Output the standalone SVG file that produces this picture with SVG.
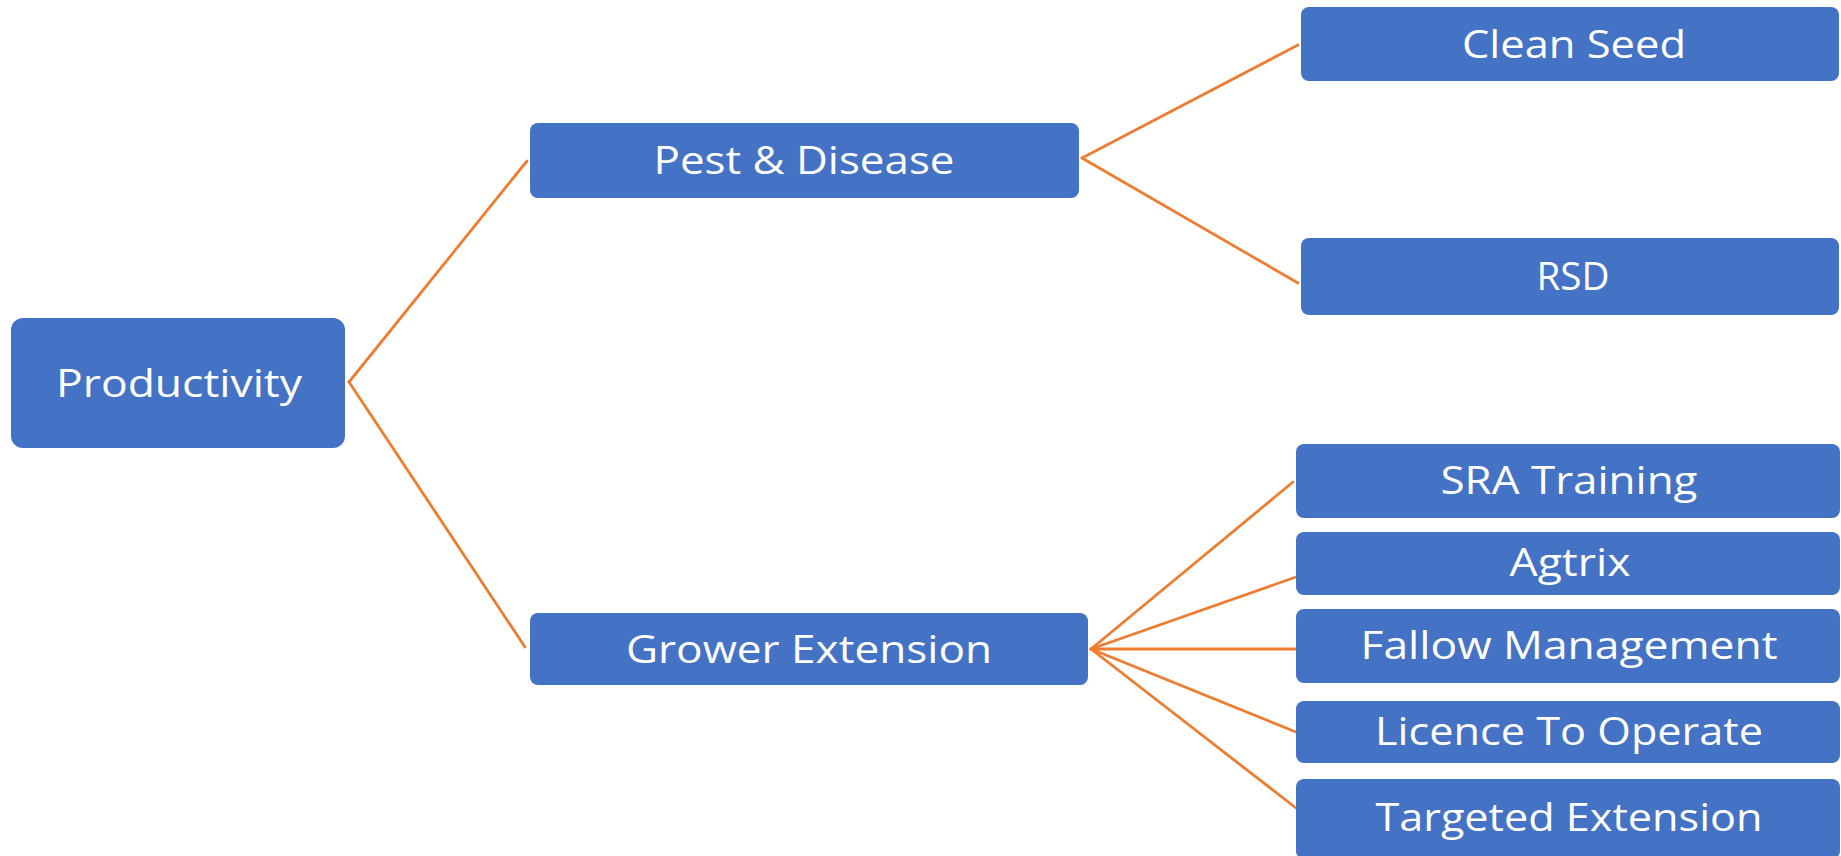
<svg xmlns="http://www.w3.org/2000/svg" width="1841" height="856" viewBox="0 0 1841 856">
<style>
.box{fill:#4472C4}
.lbl{fill:#FFFFFF;font-family:"Open Sans","Liberation Sans",sans-serif;font-size:38px;text-anchor:middle}
.con{stroke:#ED7D31;stroke-width:2.8;fill:none;stroke-linecap:round}
</style>
<rect width="1841" height="856" fill="#FFFFFF"/>
<g id="connectors">
<line class="con" x1="349" y1="382" x2="527" y2="161"/>
<line class="con" x1="349" y1="382" x2="525" y2="647"/>
<line class="con" x1="1082" y1="158" x2="1298" y2="45"/>
<line class="con" x1="1082" y1="158" x2="1298" y2="283"/>
<line class="con" x1="1091" y1="649" x2="1293" y2="482"/>
<line class="con" x1="1091" y1="649" x2="1296" y2="577"/>
<line class="con" x1="1091" y1="649" x2="1296" y2="649"/>
<line class="con" x1="1091" y1="649" x2="1296" y2="732"/>
<line class="con" x1="1091" y1="649" x2="1296" y2="808"/>
</g>
<g id="node-productivity">
<rect class="box" x="11" y="318" width="334" height="130" rx="12"/>
<text class="lbl" x="179" y="397" textLength="246" lengthAdjust="spacingAndGlyphs">Productivity</text>
</g>
<g id="node-pest-disease">
<rect class="box" x="530" y="123" width="549" height="75" rx="8"/>
<text class="lbl" x="804" y="174" textLength="301" lengthAdjust="spacingAndGlyphs">Pest &amp; Disease</text>
</g>
<g id="node-grower-extension">
<rect class="box" x="530" y="613" width="558" height="72" rx="8"/>
<text class="lbl" x="809" y="663" textLength="366" lengthAdjust="spacingAndGlyphs">Grower Extension</text>
</g>
<g id="node-clean-seed">
<rect class="box" x="1301" y="7" width="538" height="74" rx="8"/>
<text class="lbl" x="1574" y="58" textLength="224" lengthAdjust="spacingAndGlyphs">Clean Seed</text>
</g>
<g id="node-rsd">
<rect class="box" x="1301" y="238" width="538" height="77" rx="8"/>
<text class="lbl" x="1573" y="290" textLength="73" lengthAdjust="spacingAndGlyphs">RSD</text>
</g>
<g id="node-sra-training">
<rect class="box" x="1296" y="444" width="544" height="74" rx="8"/>
<text class="lbl" x="1569" y="494" textLength="257" lengthAdjust="spacingAndGlyphs">SRA Training</text>
</g>
<g id="node-agtrix">
<rect class="box" x="1296" y="532" width="544" height="63" rx="8"/>
<text class="lbl" x="1570" y="576" textLength="121" lengthAdjust="spacingAndGlyphs">Agtrix</text>
</g>
<g id="node-fallow-management">
<rect class="box" x="1296" y="609" width="544" height="74" rx="8"/>
<text class="lbl" x="1569" y="659" textLength="417" lengthAdjust="spacingAndGlyphs">Fallow Management</text>
</g>
<g id="node-licence-to-operate">
<rect class="box" x="1296" y="701" width="544" height="62" rx="8"/>
<text class="lbl" x="1569" y="745" textLength="388" lengthAdjust="spacingAndGlyphs">Licence To Operate</text>
</g>
<g id="node-targeted-extension">
<rect class="box" x="1296" y="779" width="544" height="80" rx="8"/>
<text class="lbl" x="1569" y="831" textLength="387" lengthAdjust="spacingAndGlyphs">Targeted Extension</text>
</g>
</svg>
